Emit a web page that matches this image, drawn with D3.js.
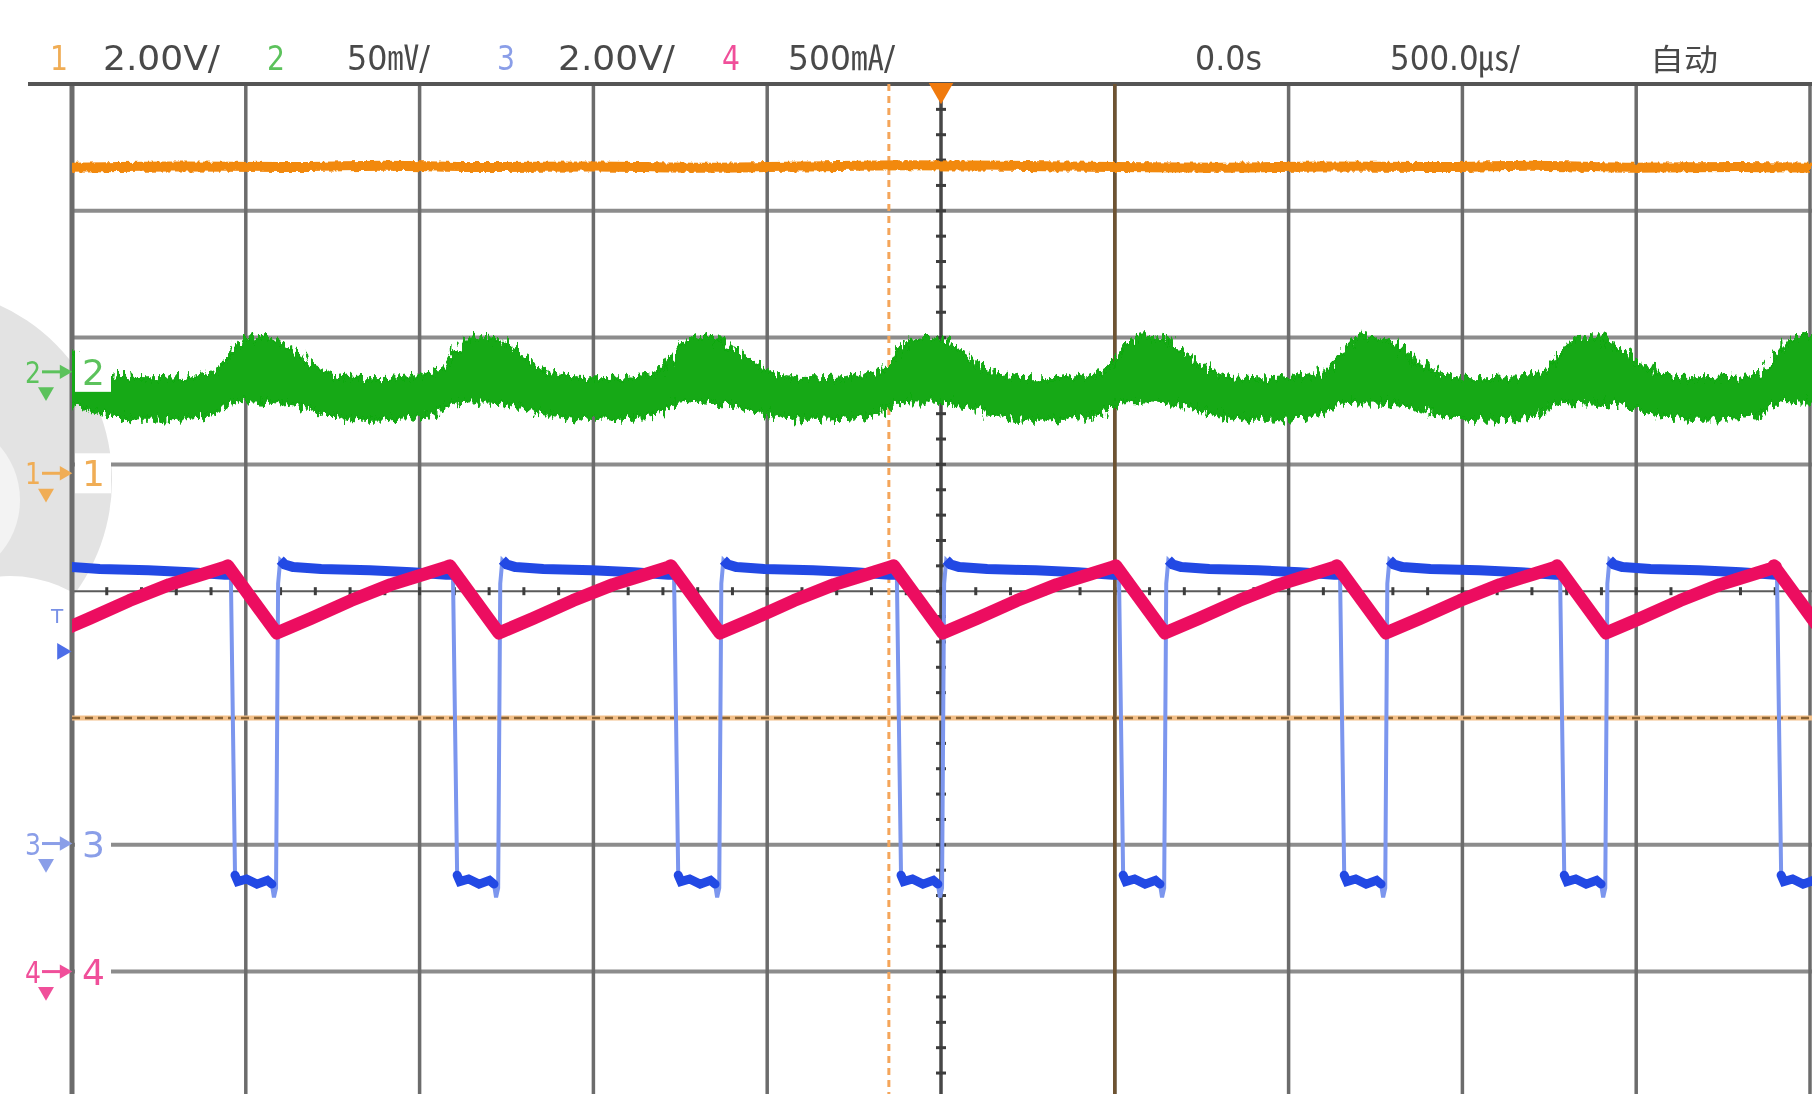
<!DOCTYPE html>
<html>
<head>
<meta charset="utf-8">
<script src="https://cdn.jsdelivr.net/npm/d3@7"></script>
<style>
  body { margin: 0; background: #fff; }
  svg { display: block; }
</style>
</head>
<body>
<div id="scope"></div>
<script>
// ---- scope settings / readout text ----
var chanNums = ["1", "2", "3", "4"];
var chanScaleText = ["2.00V/", "50\u33B7/", "2.00V/", "500\u3383/"];
var timeText = ["0.0s", "500.0\u33B2/", "自动"];
var chanScale = [2, 50, 2, 0.5];            // units per division (V, mV, V, A)
var chanOffset = [0.93, 1.73, -1.99, -3.0]; // ground marker, divisions from centre
var triggerLevel = 3.03;                    // V on channel 3

// ---- waveform data (time in us relative to each ch3 falling edge) ----
var fallEdges = [-2680, -2043, -1404, -768, -127, 512, 1148, 1781, 2405];

var blueFallTop = [[0, 4.24]];
var blueLow = [[12, -0.50], [20, -0.60], [45, -0.56], [75, -0.64], [105, -0.58], [118, -0.64]];
var blueDip = [[124, -0.85], [130, -0.70], [136, 4.10]];
var blueHigh = [[142, 4.47], [155, 4.40], [180, 4.36], [260, 4.33], [400, 4.31], [520, 4.28], [620, 4.24]];

var pinkShape = [[-9, 1.60], [132, 1.335], [230, 1.392], [345, 1.463], [460, 1.526], [560, 1.569], [620, 1.595]];

// [t, centre mV, half width of the noise band mV]
var greenShape = [[-29, -7.0, 8], [-9, -3.5, 9], [14, -0.5, 11], [58, 1.0, 13], [115, 1.2, 13],
                  [170, -1.5, 11], [230, -6.0, 9], [290, -9.5, 8], [374, -11.0, 8], [489, -10.5, 8], [575, -9.0, 8]];

var orangeTimes = [-2500, -2200, -1900, -1600, -1300, -1000, -700, -400, -100, 200, 500, 800, 1100, 1400, 1700, 2000, 2300, 2500];
var orangeVals = [4.82, 4.84, 4.83, 4.85, 4.83, 4.84, 4.82, 4.84, 4.86, 4.85, 4.83, 4.82, 4.84, 4.83, 4.85, 4.82, 4.83, 4.82];

var cursorTime = -150;     // orange dashed vertical cursor (us)
var cursorDiv = -1;        // dashed horizontal cursor (div)
var refTime = 500;         // brown time reference line

// ---- layout ----
var W = 1812, H = 1094;
var plotL = 72, plotR = 1810, plotT = 84, divH = 126.8;

var x = d3.scaleLinear().domain([-2500, 2500]).range([plotL, plotR]);
var yDiv = d3.scaleLinear().domain([4, -4]).range([plotT, plotT + 8 * divH]);

function chanY(c) {
  var s = chanScale[c], o = chanOffset[c];
  return d3.scaleLinear().domain([(-4 - o) * s, (4 - o) * s]).range([yDiv(-4), yDiv(4)]);
}
var yC = [0, 1, 2, 3].map(chanY);

var colors = {
  orange: "#f2890f", green: "#12a912", blue: "#2449e4", blueLight: "#7b96ee", pink: "#ec1160"
};
var labelColors = ["#f0ad55", "#5cc25c", "#8a9ee8", "#f0509a"];

var svg = d3.select("#scope").append("svg").attr("width", W).attr("height", H);
var defs = svg.append("defs");

var fg = defs.append("filter").attr("id", "noiseG")
  .attr("x", "-2%").attr("y", "-60%").attr("width", "104%").attr("height", "220%");
fg.append("feTurbulence").attr("type", "fractalNoise").attr("baseFrequency", "0.3 0.07")
  .attr("numOctaves", 2).attr("seed", 4).attr("result", "n");
fg.append("feDisplacementMap").attr("in", "SourceGraphic").attr("in2", "n")
  .attr("scale", 20).attr("xChannelSelector", "R").attr("yChannelSelector", "G");

var fo = defs.append("filter").attr("id", "noiseO")
  .attr("x", "-2%").attr("y", "-200%").attr("width", "104%").attr("height", "500%");
fo.append("feTurbulence").attr("type", "fractalNoise").attr("baseFrequency", "0.2 0.08")
  .attr("numOctaves", 2).attr("seed", 9).attr("result", "n");
fo.append("feDisplacementMap").attr("in", "SourceGraphic").attr("in2", "n")
  .attr("scale", 6).attr("xChannelSelector", "R").attr("yChannelSelector", "G");

defs.append("filter").attr("id", "soft").append("feGaussianBlur").attr("stdDeviation", 0.7);

defs.append("clipPath").attr("id", "plotClip").append("rect")
  .attr("x", plotL).attr("y", plotT).attr("width", W - plotL).attr("height", H - plotT);

var root = svg.append("g").attr("filter", "url(#soft)");
root.append("rect").attr("width", W).attr("height", H).attr("fill", "#fff");

// grey blob on the left edge (watermark)
root.append("circle").attr("cx", -80).attr("cy", 480).attr("r", 192).attr("fill", "#e3e3e3");
root.append("circle").attr("cx", -62).attr("cy", 500).attr("r", 82).attr("fill", "#f3f3f3");
root.append("circle").attr("cx", 10).attr("cy", 702).attr("r", 126).attr("fill", "#fff");

// ---- grid ----
var grid = root.append("g");
grid.selectAll("line.h").data(d3.range(-3, 4)).enter().append("line")
  .attr("x1", plotL).attr("x2", W)
  .attr("y1", function(d) { return yDiv(d); }).attr("y2", function(d) { return yDiv(d); })
  .attr("stroke", function(d) { return d === 0 ? "#5a5a5a" : "#8c8c8c"; })
  .attr("stroke-width", function(d) { return d === 0 ? 2 : 4; });
grid.selectAll("line.v").data(d3.range(-5, 6)).enter().append("line")
  .attr("x1", function(d) { return x(d * 500); }).attr("x2", function(d) { return x(d * 500); })
  .attr("y1", plotT).attr("y2", H)
  .attr("stroke", function(d) { return d === 0 ? "#474747" : "#6c6c6c"; })
  .attr("stroke-width", function(d) { return d === -5 ? 5 : 3.5; });
// top border
grid.append("line").attr("x1", 28).attr("x2", W).attr("y1", plotT).attr("y2", plotT)
  .attr("stroke", "#555").attr("stroke-width", 4);

// centre ticks
grid.selectAll("rect.vt").data(d3.range(-19, 20).map(function(d) { return d / 5; })).enter().append("rect")
  .attr("x", x(0) - 5).attr("y", function(d) { return yDiv(d) - 1.5; })
  .attr("width", 10).attr("height", 3).attr("fill", "#3c3c3c");
grid.selectAll("rect.ht").data(d3.range(-24, 25).map(function(d) { return d * 100; })).enter().append("rect")
  .attr("x", function(d) { return x(d) - 1.5; }).attr("y", yDiv(0) - 4)
  .attr("width", 3).attr("height", 8).attr("fill", "#3c3c3c");

// cursors / reference lines
grid.append("line").attr("x1", plotL).attr("x2", W).attr("y1", yDiv(cursorDiv)).attr("y2", yDiv(cursorDiv))
  .attr("stroke", "#f3c089").attr("stroke-width", 5);
grid.append("line").attr("x1", plotL).attr("x2", W).attr("y1", yDiv(cursorDiv)).attr("y2", yDiv(cursorDiv))
  .attr("stroke", "#8a6434").attr("stroke-width", 2.5).attr("stroke-dasharray", "8,5");
grid.append("line").attr("x1", x(cursorTime)).attr("x2", x(cursorTime)).attr("y1", plotT).attr("y2", H)
  .attr("stroke", "#f4a55a").attr("stroke-width", 3).attr("stroke-dasharray", "7,5");
grid.append("line").attr("x1", x(refTime)).attr("x2", x(refTime)).attr("y1", plotT).attr("y2", H)
  .attr("stroke", "#6e5230").attr("stroke-width", 3.5);

// trigger position marker at top
root.append("path")
  .attr("d", d3.symbol().type(d3.symbolTriangle).size(260)())
  .attr("transform", "translate(" + x(0) + "," + (plotT + 6) + ") rotate(180)")
  .attr("fill", "#f07a10");

// ---- traces ----
var traces = root.append("g").attr("clip-path", "url(#plotClip)");

function shift(shape, t0) {
  return shape.map(function(p) { return [p[0] + t0].concat(p.slice(1)); });
}

// channel 1 (orange)
var orangePts = orangeTimes.map(function(t, i) { return [t, orangeVals[i]]; });
traces.append("path").datum(orangePts)
  .attr("d", d3.line().x(function(d) { return x(d[0]); }).y(function(d) { return yC[0](d[1]); }).curve(d3.curveMonotoneX))
  .attr("fill", "none").attr("stroke", colors.orange).attr("stroke-width", 10).attr("filter", "url(#noiseO)");

// channel 2 (green)
var greenPts = [];
fallEdges.forEach(function(t0) { greenPts = greenPts.concat(shift(greenShape, t0)); });
traces.append("path").datum(greenPts)
  .attr("d", d3.area().x(function(d) { return x(d[0]); })
    .y0(function(d) { return yC[1](d[1] - d[2]); })
    .y1(function(d) { return yC[1](d[1] + d[2]); })
    .curve(d3.curveBasis))
  .attr("fill", colors.green).attr("stroke", colors.green).attr("stroke-width", 3)
  .attr("filter", "url(#noiseG)");

// channel 3 (blue) - thin light pass for edges, thick pass for the flats
var bLine = d3.line().x(function(d) { return x(d[0]); }).y(function(d) { return yC[2](d[1]); });
var bluePts = [];
fallEdges.forEach(function(t0) {
  bluePts = bluePts.concat(shift(blueFallTop.concat(blueLow, blueDip, blueHigh), t0));
});
traces.append("path").datum(bluePts).attr("d", bLine)
  .attr("fill", "none").attr("stroke", colors.blueLight).attr("stroke-width", 4);
fallEdges.forEach(function(t0, i) {
  traces.append("path").datum(shift(blueLow, t0)).attr("d", bLine)
    .attr("fill", "none").attr("stroke", colors.blue).attr("stroke-width", 9).attr("stroke-linecap", "round");
  var hi = shift(blueHigh, t0);
  if (i + 1 < fallEdges.length) hi = hi.concat(shift(blueFallTop, fallEdges[i + 1]));
  traces.append("path").datum(hi).attr("d", bLine)
    .attr("fill", "none").attr("stroke", colors.blue).attr("stroke-width", 10).attr("stroke-linejoin", "round");
});

// channel 4 (pink)
var pinkPts = [];
fallEdges.forEach(function(t0) { pinkPts = pinkPts.concat(shift(pinkShape, t0)); });
traces.append("path").datum(pinkPts)
  .attr("d", d3.line().x(function(d) { return x(d[0]); }).y(function(d) { return yC[3](d[1]); }))
  .attr("fill", "none").attr("stroke", colors.pink).attr("stroke-width", 13).attr("stroke-linejoin", "round");

// ---- ground markers ----
var font = "'DejaVu Sans', 'Noto Sans CJK SC', sans-serif";
chanNums.forEach(function(n, c) {
  var gy = yDiv(chanOffset[c]);
  var g = root.append("g");
  g.append("rect").attr("x", plotL + 3).attr("y", gy - 20).attr("width", 36).attr("height", 40).attr("fill", "#fff");
  g.append("text").text(n).attr("x", plotL + 10).attr("y", gy + 13)
    .attr("font-family", font).attr("font-size", 36).attr("fill", labelColors[c]);
  g.append("text").text(n).attr("x", 25).attr("y", gy + 11).attr("textLength", 16).attr("lengthAdjust", "spacingAndGlyphs")
    .attr("font-family", font).attr("font-size", 30).attr("fill", labelColors[c]);
  g.append("line").attr("x1", 42).attr("x2", 62).attr("y1", gy).attr("y2", gy)
    .attr("stroke", labelColors[c]).attr("stroke-width", 3);
  g.append("path").attr("d", d3.symbol().type(d3.symbolTriangle).size(90)())
    .attr("transform", "translate(64," + gy + ") rotate(90)").attr("fill", labelColors[c]);
  g.append("path").attr("d", d3.symbol().type(d3.symbolTriangle).size(110)())
    .attr("transform", "translate(46," + (gy + 20) + ") rotate(180)").attr("fill", labelColors[c]);
});

// trigger level marker
var ty = yC[2](triggerLevel);
root.append("text").text("T").attr("x", 51).attr("y", ty - 28)
  .attr("font-family", font).attr("font-size", 20).attr("fill", "#7890e6");
root.append("path").attr("d", d3.symbol().type(d3.symbolTriangle).size(120)())
  .attr("transform", "translate(62," + ty + ") rotate(90)").attr("fill", "#4e6ee8");

// ---- header readout ----
var head = root.append("g").attr("font-family", font).attr("font-size", 34);
var numX = [50, 267, 497, 722], valX = [103, 347, 558, 788], valW = [117, 83, 117, 107];
chanNums.forEach(function(n, c) {
  head.append("text").text(n).attr("x", numX[c]).attr("y", 70).attr("fill", labelColors[c])
    .attr("textLength", 18).attr("lengthAdjust", "spacingAndGlyphs");
  head.append("text").text(chanScaleText[c]).attr("x", valX[c]).attr("y", 70).attr("fill", "#4a4a4a")
    .attr("textLength", valW[c]).attr("lengthAdjust", "spacingAndGlyphs");
});
var tX = [1195, 1390, 1650], tW = [67, 130, 68];
timeText.forEach(function(t, i) {
  head.append("text").text(t).attr("x", tX[i]).attr("y", 70).attr("fill", "#4a4a4a")
    .attr("font-size", i === 2 ? 30 : 34)
    .attr("textLength", tW[i]).attr("lengthAdjust", "spacingAndGlyphs");
});
</script>
</body>
</html>
